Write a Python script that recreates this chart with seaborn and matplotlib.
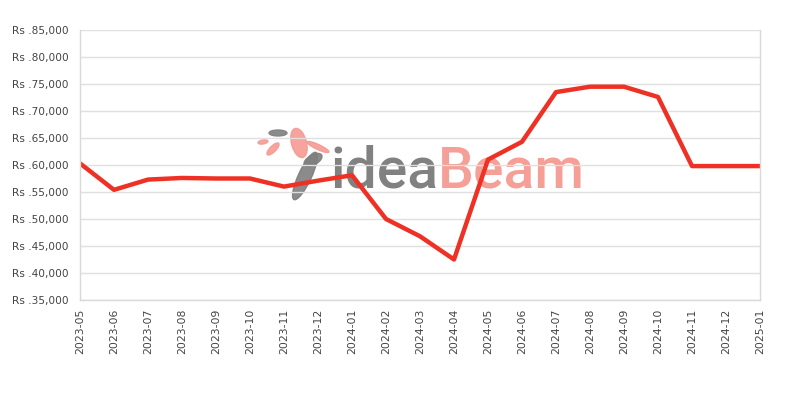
import matplotlib
matplotlib.use("Agg")
import matplotlib.pyplot as plt
import seaborn as sns
import pandas as pd
from matplotlib.ticker import FuncFormatter, MultipleLocator
from matplotlib.patches import Ellipse

months = ["2023-05", "2023-06", "2023-07", "2023-08", "2023-09", "2023-10", "2023-11",
          "2023-12", "2024-01", "2024-02", "2024-03", "2024-04", "2024-05", "2024-06",
          "2024-07", "2024-08", "2024-09", "2024-10", "2024-11", "2024-12", "2025-01"]
prices = [60300, 55400, 57300, 57600, 57500, 57500, 56000,
          57100, 58100, 50000, 46800, 42500, 61000, 64300,
          73500, 74500, 74500, 72600, 59800, 59800, 59800]

df = pd.DataFrame({"month": months, "price": prices, "idx": range(len(months))})

sns.set_style("white")
plt.rcParams['font.family'] = ['DejaVu Sans']

W, H = 800, 400
fig = plt.figure(figsize=(8, 4), dpi=100)
ax = fig.add_axes([0.1, 0.25, 0.85, 0.675])

# watermark logo (decorative), positioned in pixel units
def fx(x): return x / W
def fy(y): return 1 - y / H
for (cx, cy, w, h, ang, col) in [
        (305, 176, 13, 52, -25, "#7f7f7f"),
        (313, 160, 10, 20, -60, "#7f7f7f"),
        (299, 143, 15, 30, 15, "#f59a92"),
        (318, 147, 24, 5, -25, "#f59a92"),
        (273, 149, 6, 16, -45, "#f59a92"),
        (278, 133, 18, 6, 0, "#7f7f7f"),
        (263, 142, 10, 4, 10, "#f59a92")]:
    fig.patches.append(Ellipse((cx / 100, (H - cy) / 100), w / 100, h / 100, angle=ang,
                               transform=fig.dpi_scale_trans, color=col, alpha=0.9,
                               zorder=0))
fig.text(fx(330), fy(188), "idea", fontsize=41, color="#7a7a7a", alpha=0.95,
         family="Roboto", fontweight="medium", zorder=0)
fig.text(fx(438), fy(188), "Beam", fontsize=41, color="#f59a92", alpha=0.95,
         family="Roboto", fontweight="medium", zorder=0)
ax.set_zorder(1)
ax.patch.set_alpha(0)

sns.lineplot(data=df, x="idx", y="price", ax=ax, color="#ee3124", linewidth=3.2)

ax.set_xlim(0, len(months) - 1)
ax.set_ylim(35000, 85000)
ax.yaxis.set_major_locator(MultipleLocator(5000))
ax.yaxis.set_major_formatter(FuncFormatter(lambda v, p: "Rs .{:,.0f}".format(v)))
ax.set_xticks(df["idx"])
ax.set_xticklabels(months, rotation=90)
ax.set_xlabel("")
ax.set_ylabel("")
ax.grid(axis="y", color="#e0e0e0", linewidth=1)
ax.grid(axis="x", visible=False)
for s in ax.spines.values():
    s.set_color("#d9d9d9")
    s.set_linewidth(1)
ax.spines["top"].set_visible(False)
ax.tick_params(axis="y", labelsize=7.6, colors="#444444", length=0, pad=8)
ax.tick_params(axis="x", labelsize=7.8, colors="#444444", length=0, pad=6)

fig.savefig("out.png", dpi=100)
